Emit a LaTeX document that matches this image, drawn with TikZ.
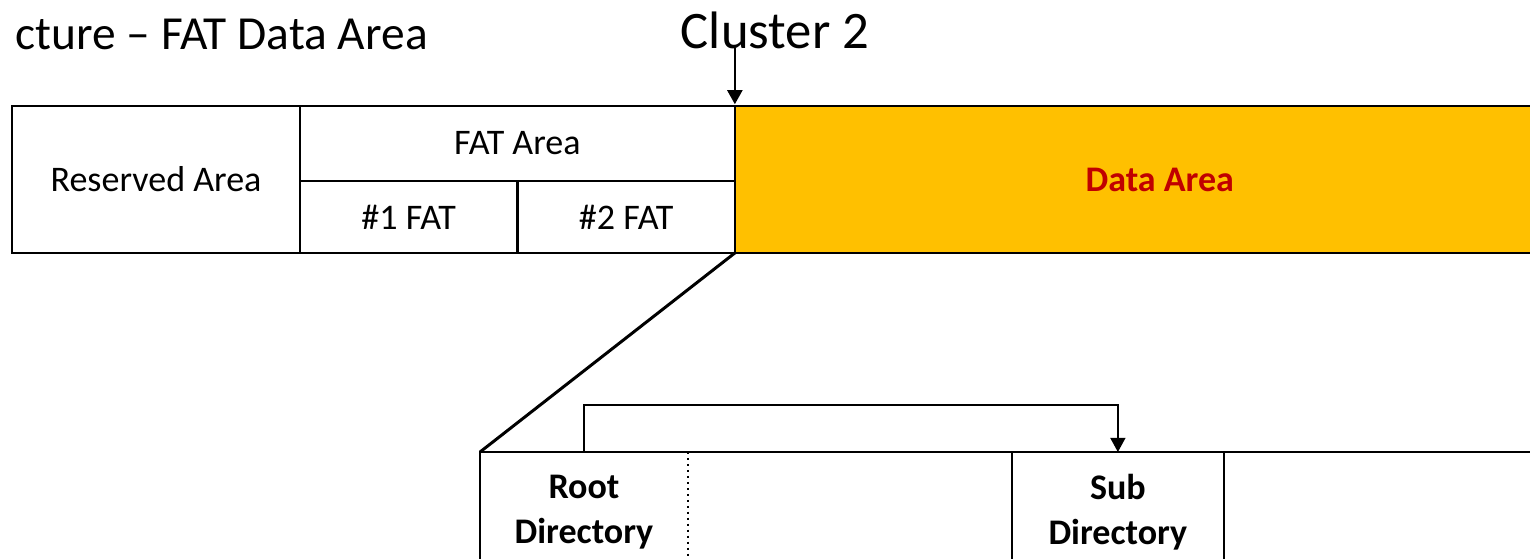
\documentclass[tikz,border=0pt]{standalone}
\usepackage{fontspec}
\setmainfont{Carlito}
\usepackage{tikz}
\usetikzlibrary{calc,positioning,arrows.meta}
\definecolor{dataorange}{HTML}{FFC000}
\definecolor{datared}{HTML}{C00000}

\begin{document}
\begin{tikzpicture}[x=0.02cm, y=-0.02cm, every node/.style={inner sep=2pt},
    tip/.style={-{Triangle[length=8pt,width=8.5pt]}},
    cell/.style={draw, line width=1.4pt, outer sep=0pt, rectangle, anchor=north west, align=center,
        font=\fontsize{20.5}{25.5}\selectfont},
    boldcell/.style={cell, font=\fontsize{20.5}{25.5}\selectfont\bfseries} ]

    \useasboundingbox (0,0) rectangle (1530,558);
    \clip (0,0) rectangle (1530,558);

    % Heading and cluster mark.
    \node[anchor=base east, inner sep=0pt, font=\fontsize{27}{32}\selectfont] (title) at (428,49) {cture – FAT Data Area};
    \node[anchor=base, font=\fontsize{30}{36}\selectfont] (clus) at (775,48) {Cluster 2};

    % Volume layout.
    \node[cell, minimum width=5.76cm, minimum height=2.94cm] (resv) at (12,106) {Reserved Area};
    \node[cell, minimum width=8.7cm, minimum height=1.5cm] (fat) at (resv.north east) {FAT Area};
    \node[cell, minimum width=4.35cm, minimum height=1.44cm] (fat1) at (fat.south west) {\#1 FAT};
    \node[cell, minimum width=4.35cm, minimum height=1.44cm] (fat2) at (fat1.north east) {\#2 FAT};
    \node[boldcell, fill=dataorange, text=datared, minimum width=17cm, minimum height=2.94cm]
        (data) at (fat.north east) {Data Area};

    \draw[tip, line width=1.4pt] (clus.base -| data.north west) -- ([yshift=1pt]data.north west);

    % Zoom into the data area.
    \node[boldcell, draw=none, minimum width=4.16cm, minimum height=2.4cm] (root) at (480,452) {Root\\Directory};
    \node[cell, draw=none, minimum width=6.48cm, minimum height=2.4cm] (gap) at (root.north east) {};
    \node[boldcell, minimum width=4.24cm, minimum height=2.4cm] (sub) at (gap.north east) {Sub\\Directory};
    \node[cell, draw=none, minimum width=7cm, minimum height=2.4cm] (rest) at (sub.north east) {};

    \draw[line width=1.4pt] (root.north west) rectangle (rest.south east);
    \draw[dotted, line width=1.4pt] (root.north east) -- (root.south east);

    \draw[line width=1.7pt] (data.south west) -- (root.north west);

    % Root points to its sub directory.
    \draw[tip, line width=0.9pt] (root.north) -- ++(0,-47) -| (sub.north);

\end{tikzpicture}
\end{document}
